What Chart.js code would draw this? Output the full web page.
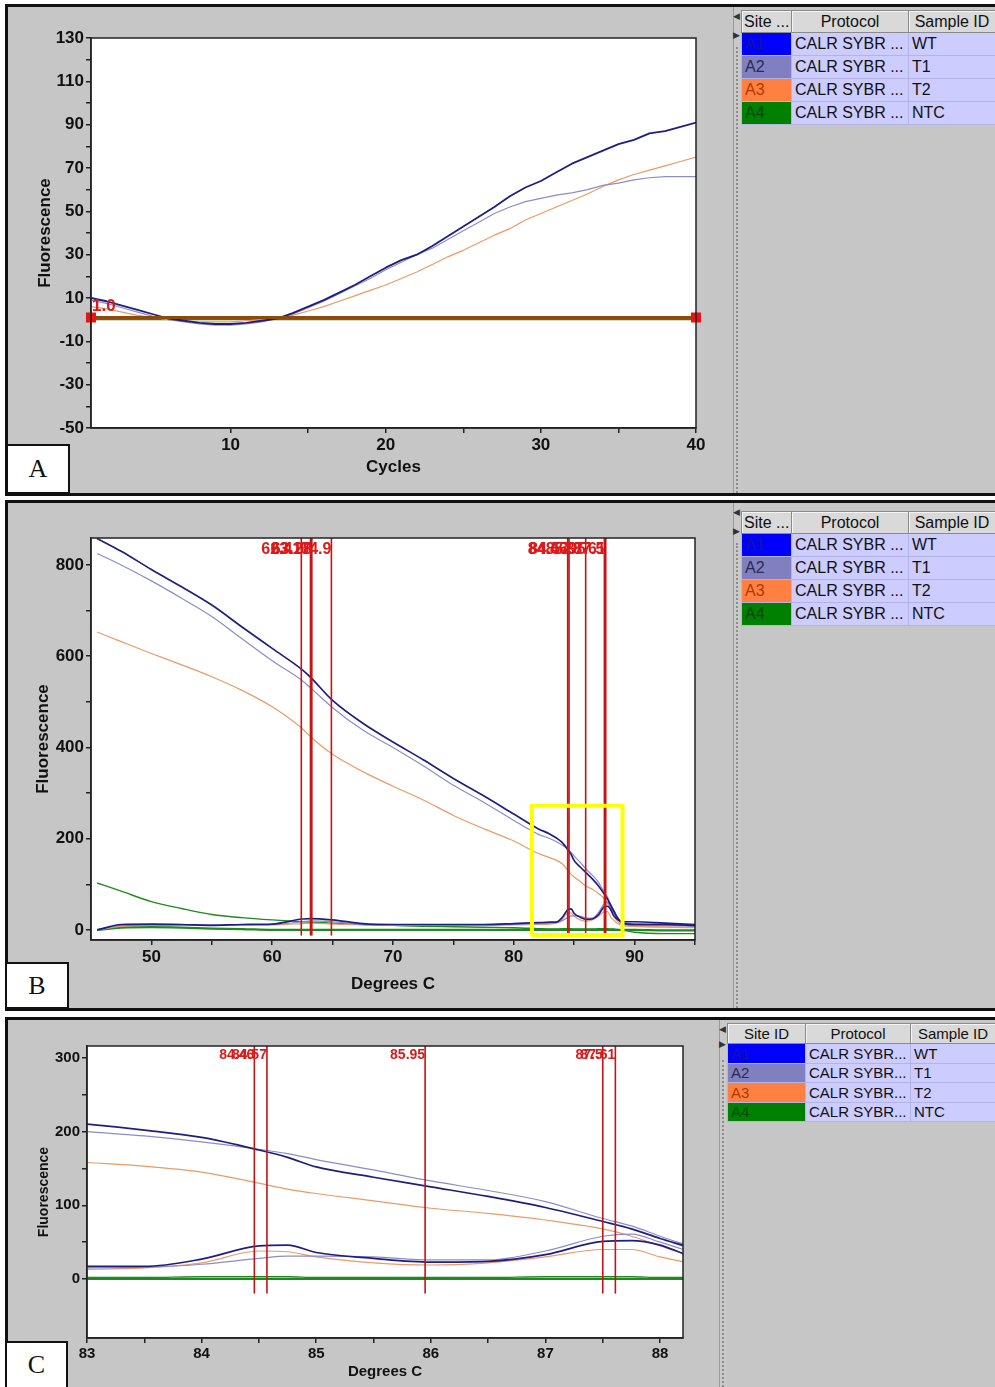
<!DOCTYPE html>
<html>
<head>
  <meta charset="utf-8">
  <title>CALR SYBR amplification and melt curves</title>
  <script src="https://cdn.jsdelivr.net/npm/chart.js"></script>
  <style>
    body { margin: 0; background: #fff; }
    #page { position: relative; width: 995px; height: 1387px; overflow: hidden; background: #fff; }
    .panel { position: absolute; left: 5px; width: 1000px; background: #c6c6c6; border: 3px solid #111; box-sizing: border-box; }
    canvas { position: absolute; }
    .strip { position: absolute; width: 7px; border-left: 1px solid #9a9a9a; background: #c9c9c9; }
    .strip::after { content: ''; position: absolute; left: 2px; top: 40px; bottom: 0; border-left: 2px dotted #8c8c8c; }
    .strip span { position: absolute; left: -1px; font-size: 9px; color: #333; line-height: 9px; }
    .tag { position: absolute; background: #fff; border: 2px solid #111; box-sizing: border-box;
           font-family: "Liberation Serif", "DejaVu Serif", serif; font-size: 26px; text-align: center; color: #111; }
    table.sites { position: absolute; border-collapse: collapse; table-layout: fixed;
                  font-family: "Liberation Sans", Arial, sans-serif; font-size: 16px; color: #111; }
    table.sites th { background: #d9d9d9; font-weight: normal; border: 1px solid #8a8a8a;
                     box-shadow: inset 1px 1px 0 #f4f4f4; padding: 0 2px; white-space: nowrap; overflow: hidden; }
    table.sites td { background: #ccccff; border: 1px solid #b4b4e4; padding: 0 3px; white-space: nowrap; overflow: hidden; }
    table.small { font-size: 15px; }
  </style>
</head>
<body>
<div id="page">
  <div class="panel" style="top:4px; height:492px;"></div>
  <div class="panel" style="top:500px; height:511px;"></div>
  <div class="panel" style="top:1017px; height:380px;"></div>

  <canvas id="ampChart" width="725" height="486" style="left:8px; top:7px;"></canvas>
  <canvas id="meltChart" width="725" height="505" style="left:8px; top:503px;"></canvas>
  <canvas id="zoomChart" width="710" height="367" style="left:8px; top:1020px;"></canvas>

  <div class="strip" style="left:733px; top:7px; height:486px;"><span style="top:5px">&#9664;</span><span style="top:24px">&#9654;</span></div>
  <div class="strip" style="left:733px; top:503px; height:505px;"><span style="top:5px">&#9664;</span><span style="top:24px">&#9654;</span></div>
  <div class="strip" style="left:719px; top:1020px; height:367px;"><span style="top:5px">&#9664;</span><span style="top:20px">&#9654;</span></div>

  <table class="sites" id="tableA" style="left:741px; top:10px; width:254px;"></table>
  <table class="sites" id="tableB" style="left:741px; top:511px; width:254px;"></table>
  <table class="sites small" id="tableC" style="left:727px; top:1023px; width:268px;"></table>

  <div class="tag" style="left:6px; top:444px; width:64px; height:50px; line-height:46px;">A</div>
  <div class="tag" style="left:5px; top:962px; width:64px; height:47px; line-height:43px;">B</div>
  <div class="tag" style="left:5px; top:1341px; width:63px; height:48px; line-height:44px;">C</div>
</div>

<script>
// ---- samples ----
const siteIds = ['A1', 'A2', 'A3', 'A4'];
const sampleIds = ['WT', 'T1', 'T2', 'NTC'];
const protocolShort = 'CALR SYBR ...';
const protocolShortC = 'CALR SYBR...';

// ---- amplification (cycles 1-40) ----
const cycles = [1, 2, 3, 4, 5, 6, 7, 8, 9, 10, 11, 12, 13, 14, 15, 16, 17, 18, 19, 20,
                21, 22, 23, 24, 25, 26, 27, 28, 29, 30, 31, 32, 33, 34, 35, 36, 37, 38, 39, 40];
const ampWT  = [10, 8.5, 6.5, 4.5, 2.5, 0.5, -0.5, -1.5, -2, -2, -1.5, -0.5, 0.5, 3, 6, 9, 12.5, 16, 20, 24,
                27.5, 30, 34, 38.5, 43, 47.5, 52, 57, 61, 64, 68, 72, 75, 78, 81, 83, 86, 87, 89, 91];
const ampT1  = [9, 7.5, 5.5, 3.5, 1.5, 0, -1, -2, -2.5, -2.5, -2, -1, 0.5, 2.5, 5.5, 8.5, 12, 15.5, 19, 23,
                26.5, 30, 33, 37, 41, 45, 49, 52, 54.5, 56, 57.5, 58.5, 60, 62, 63, 64.5, 65.5, 66, 66, 66];
const ampT2  = [6, 5, 3.5, 2, 1, 0, -0.5, -1, -1, -1, -0.5, 0, 0.5, 2, 4, 6, 8.5, 11, 13.5, 16,
                19, 22, 25.5, 29, 32, 35.5, 39, 42, 46, 49, 52, 55, 58, 61.5, 64.5, 67, 69, 71, 73, 75];
const ampNTC = [0, 0, 0, 0, 0, 0, 0, 0, 0, 0, 0, 0, 0, 0, 0, 0, 0, 0, 0, 0,
                0, 0, 0, 0, 0, 0, 0, 0, 0, 0, 0, 0, 0, 0, 0, 0, 0, 0, 0, 0];
const threshold = 1.0;

// ---- melt (degrees C) ----
const temps = [45.5, 47.5, 50, 52.5, 55, 57.5, 60, 62.5, 63.2, 65, 67.5, 70, 72.5, 75, 77.5, 80, 82, 83,
               83.5, 84, 84.5, 84.75, 85, 85.5, 86, 86.5, 87, 87.5, 87.75, 88, 88.25, 88.5, 89, 90, 92.5, 95];
const meltWT  = [858, 830, 790, 752, 712, 664, 617, 570, 553, 503, 453, 412, 373, 332, 294, 254, 222, 210,
                 202, 192, 175, 165, 152, 138, 125, 112, 97, 78, 68, 55, 43, 30, 15, 12, 12, 10];
const meltT1  = [825, 800, 765, 727, 687, 638, 590, 546, 530, 487, 438, 400, 360, 317, 280, 240, 210, 200,
                 194, 186, 176, 170, 162, 148, 133, 120, 105, 82, 72, 58, 45, 32, 14, 10, 10, 8];
const meltT2  = [653, 632, 606, 581, 555, 525, 489, 441, 423, 385, 347, 315, 285, 251, 222, 195, 168, 158,
                 153, 145, 130, 122, 116, 106, 96, 89, 80, 68, 58, 45, 32, 22, 10, 8, 7, 6];
const meltNTC = [103, 85, 62, 47, 34, 27, 22, 18, 17, 15, 12, 10, 8, 7, 6, 5, 3, 2,
                 2, 3, 3, 3, 2, 2, 2, 2, 3, 3, 3, 2, 2, 1, 0, -5, -8, -8];
const derivWT  = [0, 12, 13, 12, 10, 12, 13, 24, 25, 22, 14, 12, 12, 12, 12, 14, 16, 17,
                  17, 27, 45, 46, 36, 28, 23, 24, 33, 51, 52, 46, 32, 25, 18, 18, 15, 12];
const derivT1  = [0, 10, 11, 12, 11, 12, 12, 18, 20, 18, 12, 11, 11, 11, 11, 12, 14, 15,
                  16, 20, 28, 31, 31, 30, 26, 26, 38, 58, 61, 50, 38, 28, 16, 14, 12, 10];
const derivT2  = [0, 8, 10, 10, 10, 10, 11, 14, 15, 13, 11, 10, 10, 10, 10, 11, 12, 13,
                  15, 22, 38, 37, 30, 22, 19, 22, 30, 40, 40, 30, 22, 16, 10, 8, 6, 5];
const derivNTC = [0, 5, 6, 5, 3, 2, 0, 0, 0, 0, 0, 0, 0, 0, 0, 0, 0, 0,
                  0, 0, 0, 0, 0, 0, 0, 0, 0, 0, 0, 0, 0, 0, 0, 0, -1, -1];

// melt peak markers
const peaksB = [62.41, 63.17, 63.28, 64.9, 84.46, 84.57, 85.95, 87.5, 87.61];
const peaksC = [84.46, 84.57, 85.95, 87.5, 87.61];
// highlighted region in the full melt view (temp range, fluorescence range)
const zoomTemps = [81.5, 89.0];
const zoomFluor = [-11, 272];

// ---- axis ticks ----
const ampXTicks = [10, 15, 20, 25, 30, 35, 40];
const ampXLabels = [10, 20, 30, 40];
const ampYTicks = [-50, -40, -30, -20, -10, 0, 10, 20, 30, 40, 50, 60, 70, 80, 90, 100, 110, 120, 130];
const ampYLabels = [-50, -30, -10, 10, 30, 50, 70, 90, 110, 130];
const meltXTicks = [50, 55, 60, 65, 70, 75, 80, 85, 90, 95];
const meltXLabels = [50, 60, 70, 80, 90];
const meltYTicks = [0, 100, 200, 300, 400, 500, 600, 700, 800];
const meltYLabels = [0, 200, 400, 600, 800];
const zoomXTicks = [83, 83.5, 84, 84.5, 85, 85.5, 86, 86.5, 87, 87.5, 88];
const zoomXLabels = [83, 84, 85, 86, 87, 88];
const zoomYTicks = [0, 50, 100, 150, 200, 250, 300];
const zoomYLabels = [0, 100, 200, 300];

const siteColors = { A1: '#0000ff', A2: '#8080c0', A3: '#ff8040', A4: '#008000' };
const siteText = { A1: '#14149a', A2: '#2a2a55', A3: '#b23800', A4: '#064806' };
const lineColors = { WT: '#1e1e80', T1: '#8c8cc8', T2: '#ec9a66', NTC: '#1f8a1f' };

const FONT = "'Liberation Sans', Arial, sans-serif";
const bold = size => ({ family: FONT, size: size, weight: 'bold' });

// white plot area plus closing frame
const plotFrame = {
  id: 'plotFrame',
  beforeDraw(chart) {
    const { ctx, chartArea: a } = chart;
    ctx.save();
    ctx.fillStyle = '#fff';
    ctx.fillRect(a.left, a.top, a.right - a.left, a.bottom - a.top);
    ctx.restore();
  },
  afterDraw(chart) {
    const { ctx, chartArea: a } = chart;
    ctx.save();
    ctx.strokeStyle = '#222';
    ctx.lineWidth = 1.5;
    ctx.strokeRect(a.left, a.top, a.right - a.left, a.bottom - a.top);
    ctx.restore();
  }
};

// red temperature labels next to the peak lines
const peakLabels = {
  id: 'peakLabels',
  afterDatasetsDraw(chart, args, opts) {
    if (!opts.values) return;
    const { ctx, chartArea: a, scales: { x } } = chart;
    ctx.save();
    ctx.font = 'bold ' + opts.size + 'px ' + FONT;
    ctx.fillStyle = '#dd1a1a';
    ctx.textAlign = 'right';
    ctx.textBaseline = 'middle';
    opts.values.forEach(v => ctx.fillText(String(v), x.getPixelForValue(v), a.top + opts.offset));
    ctx.restore();
  }
};

// threshold value written at its left end
const thresholdLabel = {
  id: 'thresholdLabel',
  afterDatasetsDraw(chart, args, opts) {
    if (opts.value === undefined) return;
    const { ctx, scales: { x, y } } = chart;
    ctx.save();
    ctx.font = 'bold 17px ' + FONT;
    ctx.fillStyle = '#dd1a1a';
    ctx.textAlign = 'left';
    ctx.textBaseline = 'middle';
    ctx.fillText(opts.value.toFixed(1), x.getPixelForValue(opts.x) + 1, y.getPixelForValue(opts.value) - 11);
    ctx.restore();
  }
};

function axis(o) {
  return {
    type: 'linear',
    min: o.min,
    max: o.max,
    afterBuildTicks: s => { s.ticks = o.ticks.map(v => ({ value: v })); },
    afterFit: s => { if (o.horizontal) s.height = o.size; else s.width = o.size; },
    ticks: {
      autoSkip: false, maxRotation: 0, padding: 2, color: '#111', font: bold(o.fontSize),
      callback: v => (o.labels.includes(v) ? String(v) : '')
    },
    grid: { drawOnChartArea: false, drawTicks: true, tickLength: 5, color: '#222', lineWidth: 1.5 },
    border: { display: true, color: '#222', width: 1.5 },
    title: { display: true, text: o.title, color: '#111', font: bold(o.titleSize), padding: { top: 4, bottom: 4 } }
  };
}

function baseOptions(padding, xAxis, yAxis, plugins) {
  return {
    responsive: false,
    animation: false,
    events: [],
    layout: { padding: padding },
    elements: { point: { radius: 0 }, line: { borderJoinStyle: 'round' } },
    scales: { x: xAxis, y: yAxis },
    plugins: Object.assign({ legend: { display: false }, tooltip: { enabled: false } }, plugins)
  };
}

function series(xs, ys) {
  return xs.map((x, i) => ({ x: x, y: ys[i] }));
}

// ---- A: amplification ----
new Chart(document.getElementById('ampChart'), {
  type: 'line',
  data: {
    datasets: [
      {
        data: [{ x: cycles[0], y: threshold }, { x: cycles[cycles.length - 1], y: threshold }],
        borderColor: '#8e4a08', borderWidth: 3, order: 0, clip: false,
        pointRadius: 5, pointStyle: 'rect', pointBackgroundColor: '#ee1111', pointBorderColor: '#ee1111'
      },
      { data: series(cycles, ampWT), borderColor: lineColors.WT, borderWidth: 1.8, order: 1 },
      { data: series(cycles, ampT1), borderColor: lineColors.T1, borderWidth: 1.2, order: 2 },
      { data: series(cycles, ampT2), borderColor: lineColors.T2, borderWidth: 1.2, order: 3 },
      { data: series(cycles, ampNTC), borderColor: lineColors.NTC, borderWidth: 1.2, order: 4 }
    ]
  },
  options: baseOptions(
    { top: 31, right: 37, bottom: 11, left: 23 },
    axis({ min: 1, max: 40, ticks: ampXTicks, labels: ampXLabels, fontSize: 17, title: 'Cycles', titleSize: 17, size: 54, horizontal: true }),
    axis({ min: -50, max: 130, ticks: ampYTicks, labels: ampYLabels, fontSize: 17, title: 'Fluorescence', titleSize: 17, size: 60 }),
    { thresholdLabel: { value: threshold, x: cycles[0] } }
  ),
  plugins: [plotFrame, thresholdLabel]
});

// ---- melt datasets shared by B and C ----
function meltDatasets(peaks, lineTop, lineBottom, withBox) {
  const sets = [];
  if (withBox) {
    sets.push({
      data: [
        { x: zoomTemps[0], y: zoomFluor[0] }, { x: zoomTemps[1], y: zoomFluor[0] },
        { x: zoomTemps[1], y: zoomFluor[1] }, { x: zoomTemps[0], y: zoomFluor[1] },
        { x: zoomTemps[0], y: zoomFluor[0] }
      ],
      borderColor: '#ffff00', borderWidth: 4, order: 0, borderJoinStyle: 'miter'
    });
  }
  peaks.forEach(p => sets.push({
    data: [{ x: p, y: lineTop }, { x: p, y: lineBottom }],
    borderColor: '#c41414', borderWidth: 1.6, order: 1
  }));
  const curves = [
    [meltNTC, lineColors.NTC, 1.4], [derivNTC, lineColors.NTC, 2.2],
    [meltT2, lineColors.T2, 1.2], [derivT2, lineColors.T2, 1.2],
    [meltT1, lineColors.T1, 1.2], [derivT1, lineColors.T1, 1.2],
    [meltWT, lineColors.WT, 1.7], [derivWT, lineColors.WT, 1.7]
  ];
  curves.forEach((c, i) => sets.push({
    data: series(temps, c[0]), borderColor: c[1], borderWidth: c[2],
    cubicInterpolationMode: 'monotone', order: 10 - i
  }));
  return sets;
}

// ---- B: full melt ----
new Chart(document.getElementById('meltChart'), {
  type: 'line',
  data: { datasets: meltDatasets(peaksB, 859, -11, true) },
  options: baseOptions(
    { top: 35, right: 38, bottom: 9, left: 21 },
    axis({ min: 45, max: 95, ticks: meltXTicks, labels: meltXLabels, fontSize: 17, title: 'Degrees C', titleSize: 17, size: 59, horizontal: true }),
    axis({ min: -22, max: 859, ticks: meltYTicks, labels: meltYLabels, fontSize: 17, title: 'Fluorescence', titleSize: 17, size: 62 }),
    { peakLabels: { values: peaksB, size: 16, offset: 12 } }
  ),
  plugins: [plotFrame, peakLabels]
});

// ---- C: melt detail ----
new Chart(document.getElementById('zoomChart'), {
  type: 'line',
  data: { datasets: meltDatasets(peaksC, 316, -19, false) },
  options: baseOptions(
    { top: 26, right: 35, bottom: 2, left: 24 },
    axis({ min: 83, max: 88.2, ticks: zoomXTicks, labels: zoomXLabels, fontSize: 15, title: 'Degrees C', titleSize: 15, size: 47, horizontal: true }),
    axis({ min: -80, max: 316, ticks: zoomYTicks, labels: zoomYLabels, fontSize: 15, title: 'Fluorescence', titleSize: 14, size: 55 }),
    { peakLabels: { values: peaksC, size: 14, offset: 9 } }
  ),
  plugins: [plotFrame, peakLabels]
});

// ---- sample tables ----
function fillTable(id, siteHead, protocol, rowH, headH) {
  const t = document.getElementById(id);
  const w = id === 'tableC' ? [78, 105, 85] : [50, 117, 87];
  let html = '<colgroup>' + w.map(x => '<col style="width:' + x + 'px">').join('') + '</colgroup>';
  html += '<tr style="height:' + headH + 'px"><th style="text-align:' + (id === 'tableC' ? 'center' : 'left') + '">' + siteHead +
          '</th><th>Protocol</th><th>Sample ID</th></tr>';
  siteIds.forEach((s, i) => {
    html += '<tr style="height:' + rowH + 'px"><td style="background:' + siteColors[s] + ';color:' + siteText[s] + '">' + s +
            '</td><td>' + protocol + '</td><td>' + sampleIds[i] + '</td></tr>';
  });
  t.innerHTML = html;
}
fillTable('tableA', 'Site ...', protocolShort, 23, 22);
fillTable('tableB', 'Site ...', protocolShort, 23, 22);
fillTable('tableC', 'Site ID', protocolShortC, 19.5, 20);
</script>
</body>
</html>
